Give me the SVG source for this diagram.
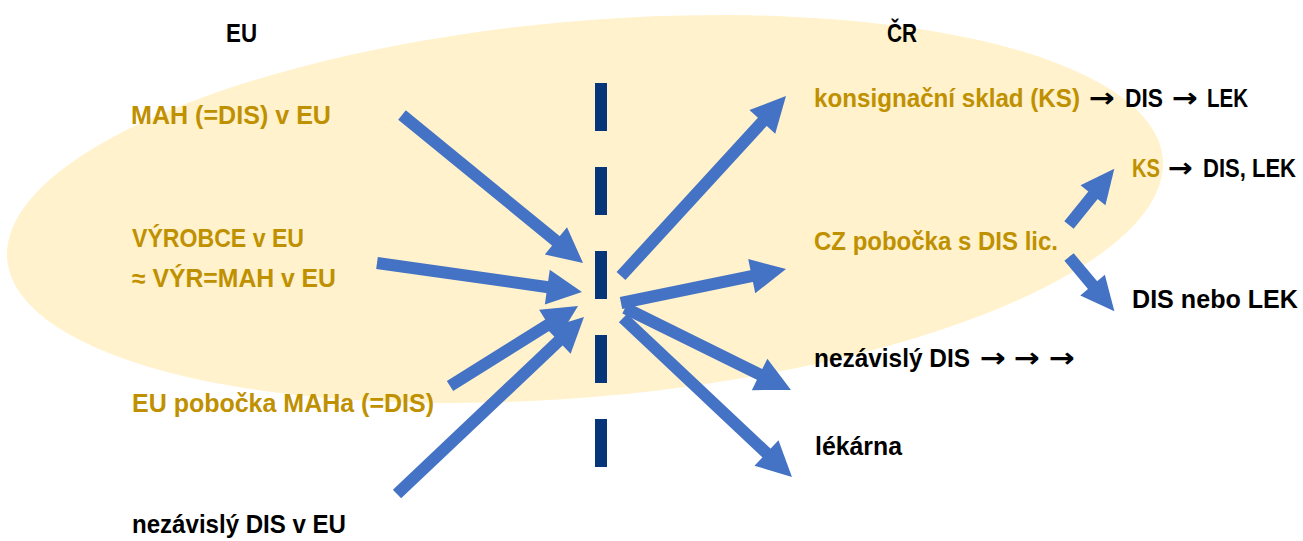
<svg xmlns="http://www.w3.org/2000/svg" width="1303" height="541" viewBox="0 0 1303 541">
<style>
text{font-family:"Liberation Sans",Arial,sans-serif;font-weight:bold;font-size:25px}
text.ar{font-family:"DejaVu Sans",sans-serif;font-size:27px}
.g{fill:#BF9000}
.k{fill:#000}
.conn line{stroke:#4472C4;stroke-width:12;fill:none}
.big{marker-end:url(#hb)}
.sm{marker-end:url(#hs)}
</style>
<defs>
<marker id="hb" markerUnits="userSpaceOnUse" markerWidth="36" markerHeight="36" refX="1" refY="17.5" orient="auto" overflow="visible">
<path d="M0,0 L35,17.5 L0,35 z" fill="#4472C4"/>
</marker>
<marker id="hs" markerUnits="userSpaceOnUse" markerWidth="36" markerHeight="36" refX="1" refY="16" orient="auto" overflow="visible">
<path d="M0,0 L34,16 L0,32 z" fill="#4472C4"/>
</marker>
</defs>
<rect width="1303" height="541" fill="#fff"/>
<ellipse id="zone" cx="585" cy="209" rx="580" ry="188" transform="rotate(-5 585 209)" fill="#FFF2CC"/>
<line id="border" x1="601" y1="83" x2="601" y2="467" stroke="#06357A" stroke-width="12" stroke-dasharray="48 36"/>
<g id="headers">
<text class="k" x="226" y="42" textLength="31" lengthAdjust="spacingAndGlyphs">EU</text>
<text class="k" x="887" y="42" textLength="30" lengthAdjust="spacingAndGlyphs">ČR</text>
</g>
<g id="n-mah"><text class="g" x="131" y="124" textLength="200" lengthAdjust="spacingAndGlyphs">MAH (=DIS) v EU</text></g>
<g id="n-vyrobce">
<text class="g" x="132" y="247" textLength="172" lengthAdjust="spacingAndGlyphs">VÝROBCE v EU</text>
<text class="g" x="132" y="287" textLength="204" lengthAdjust="spacingAndGlyphs">≈ VÝR=MAH v EU</text>
</g>
<g id="n-eupobocka"><text class="g" x="132" y="412" textLength="302" lengthAdjust="spacingAndGlyphs">EU pobočka MAHa (=DIS)</text></g>
<g id="n-nezdis-eu"><text class="k" x="132" y="533" textLength="214" lengthAdjust="spacingAndGlyphs">nezávislý DIS v EU</text></g>
<g id="n-ks">
<text class="g" x="814" y="107" textLength="266" lengthAdjust="spacingAndGlyphs">konsignační sklad (KS)</text>
<text class="k ar" x="1089" y="107" textLength="26" lengthAdjust="spacingAndGlyphs">→</text>
<text class="k" x="1125" y="107" textLength="38" lengthAdjust="spacingAndGlyphs">DIS</text>
<text class="k ar" x="1172" y="107" textLength="26" lengthAdjust="spacingAndGlyphs">→</text>
<text class="k" x="1207" y="107" textLength="41" lengthAdjust="spacingAndGlyphs">LEK</text>
</g>
<g id="n-ks2">
<text class="g" x="1132" y="177" textLength="28" lengthAdjust="spacingAndGlyphs">KS</text>
<text class="k ar" x="1168" y="177" textLength="25" lengthAdjust="spacingAndGlyphs">→</text>
<text class="k" x="1203" y="177" textLength="93" lengthAdjust="spacingAndGlyphs">DIS, LEK</text>
</g>
<g id="n-cz"><text class="g" x="814" y="250" textLength="244" lengthAdjust="spacingAndGlyphs">CZ pobočka s DIS lic.</text></g>
<g id="n-disnebolek"><text class="k" x="1132" y="308" textLength="166" lengthAdjust="spacingAndGlyphs">DIS nebo LEK</text></g>
<g id="n-nezdis">
<text class="k" x="814" y="367" textLength="156" lengthAdjust="spacingAndGlyphs">nezávislý DIS</text>
<text class="k ar" x="980" y="367" textLength="26" lengthAdjust="spacingAndGlyphs">→</text>
<text class="k ar" x="1014" y="367" textLength="26" lengthAdjust="spacingAndGlyphs">→</text>
<text class="k ar" x="1049" y="367" textLength="26" lengthAdjust="spacingAndGlyphs">→</text>
</g>
<g id="n-lekarna"><text class="k" x="815" y="455" textLength="87" lengthAdjust="spacingAndGlyphs">lékárna</text></g>
<g id="connectors" class="conn">
<line class="big" x1="402" y1="115" x2="556.7" y2="241.5"/>
<line class="big" x1="377" y1="263" x2="548.3" y2="287.2"/>
<line class="big" x1="450" y1="386" x2="549.2" y2="324"/>
<line class="big" x1="397" y1="494" x2="559.3" y2="340.4"/>
<line class="big" x1="621" y1="276" x2="763" y2="121.1"/>
<line class="big" x1="621" y1="303" x2="752.7" y2="275.9"/>
<line class="big" x1="625" y1="308" x2="760.5" y2="374.9"/>
<line class="big" x1="623" y1="318" x2="767.2" y2="453.7"/>
<line class="sm" x1="1069" y1="225" x2="1093.6" y2="194.5"/>
<line class="sm" x1="1069" y1="257" x2="1093.2" y2="285.9"/>
</g>
</svg>
